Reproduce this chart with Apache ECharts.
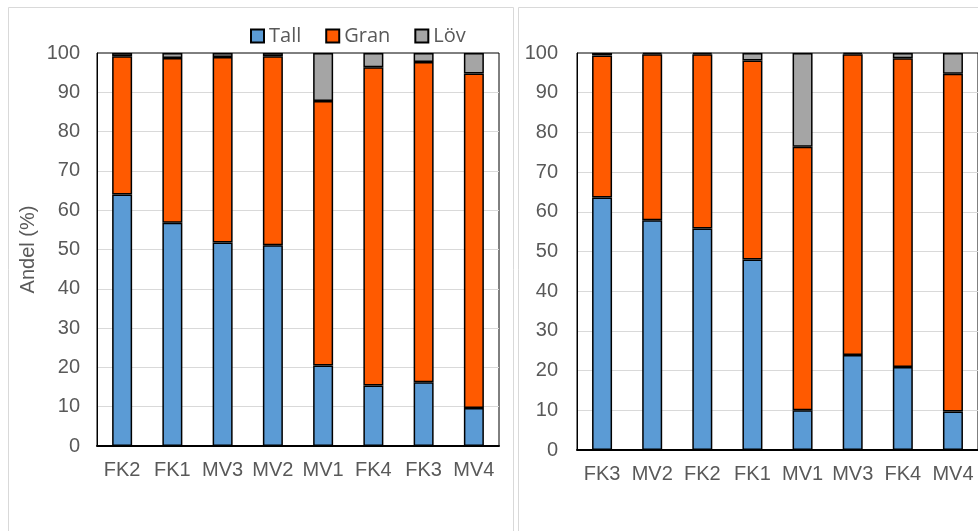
<!DOCTYPE html>
<html>
<head>
<meta charset="utf-8">
<script src="https://cdn.jsdelivr.net/npm/echarts@6/dist/echarts.min.js"></script>
<style>html,body{margin:0;padding:0;background:#fff}#c{width:978px;height:531px}</style>
</head>
<body>
<div id="c"></div>
<script>
var catsA = ['FK2','FK1','MV3','MV2','MV1','FK4','FK3','MV4'];
var tallA = [64.0, 56.8, 51.8, 51.1, 20.5, 15.4, 16.2, 9.7];
var granA = [35.2, 41.9, 47.2, 48.1, 67.3, 81.0, 81.5, 85.1];
var lovA  = [0.8, 1.3, 1.0, 0.8, 12.2, 3.6, 2.3, 5.2];

var catsB = ['FK3','MV2','FK2','FK1','MV1','MV3','FK4','MV4'];
var tallB = [63.6, 57.9, 55.8, 48.0, 10.0, 23.9, 20.9, 9.7];
var granB = [35.8, 41.8, 43.9, 50.1, 66.4, 75.8, 77.8, 85.1];
var lovB  = [0.6, 0.3, 0.3, 1.9, 23.6, 0.3, 1.3, 5.2];

var yTicks = {min: 0, max: 100, interval: 10};
var colors = {Tall: '#5B9BD5', Gran: '#FF5A00', 'Löv': '#A5A5A5'};
var labelFont = 'Liberation Sans, Arial, sans-serif';

function yAxis(gi, margin) {
  return {
    type: 'value', gridIndex: gi, min: yTicks.min, max: yTicks.max, interval: yTicks.interval,
    axisLine: {show: true, lineStyle: {color: '#000', width: 1}},
    axisTick: {show: false},
    axisLabel: {color: '#595959', fontSize: 20, fontFamily: labelFont, margin: margin},
    splitLine: {show: true, showMinLine: false, showMaxLine: false, lineStyle: {color: '#d9d9d9', width: 1}},
    name: gi === 0 ? 'Andel (%)' : '',
    nameLocation: 'middle', nameGap: 59,
    nameTextStyle: {color: '#595959', fontSize: 20, fontFamily: labelFont}
  };
}
function xAxis(gi, cats) {
  return {
    type: 'category', gridIndex: gi, data: cats,
    axisLine: {show: true, lineStyle: {color: '#000', width: 2}},
    axisTick: {show: false},
    axisLabel: {color: '#595959', fontSize: 20, fontFamily: labelFont, margin: 14, interval: 0}
  };
}
function ser(name, data, gi) {
  return {
    name: name, type: 'bar', stack: 's' + gi, xAxisIndex: gi, yAxisIndex: gi,
    data: data, barWidth: 20,
    itemStyle: {color: colors[name], borderColor: '#000', borderWidth: 1.5}
  };
}

var chart = echarts.init(document.getElementById('c'), null, {renderer: 'canvas'});
chart.setOption({
  animation: false,
  backgroundColor: '#fff',
  graphic: [
    {type: 'rect', shape: {x: 8.5, y: 7.5, width: 505, height: 560}, style: {fill: 'none', stroke: '#d9d9d9', lineWidth: 1}, z: -10},
    {type: 'rect', shape: {x: 518.5, y: 7.5, width: 500, height: 560}, style: {fill: 'none', stroke: '#d9d9d9', lineWidth: 1}, z: -10}
  ],
  legend: {
    data: ['Tall', 'Gran', 'Löv'],
    left: 245, top: 21,
    itemWidth: 13, itemHeight: 13, itemGap: 24,
    icon: 'rect',
    textStyle: {color: '#595959', fontSize: 20, fontFamily: 'Open Sans, sans-serif'}
  },
  grid: [
    {left: 97, top: 53, width: 402, height: 393, show: true, borderColor: '#000', borderWidth: 1, containLabel: false},
    {left: 577, top: 53, width: 403, height: 397, show: true, borderColor: '#000', borderWidth: 1, containLabel: false}
  ],
  xAxis: [xAxis(0, catsA), xAxis(1, catsB)],
  yAxis: [yAxis(0, 17), yAxis(1, 19)],
  series: [
    ser('Tall', tallA, 0), ser('Gran', granA, 0), ser('Löv', lovA, 0),
    ser('Tall', tallB, 1), ser('Gran', granB, 1), ser('Löv', lovB, 1)
  ]
});
</script>
</body>
</html>
